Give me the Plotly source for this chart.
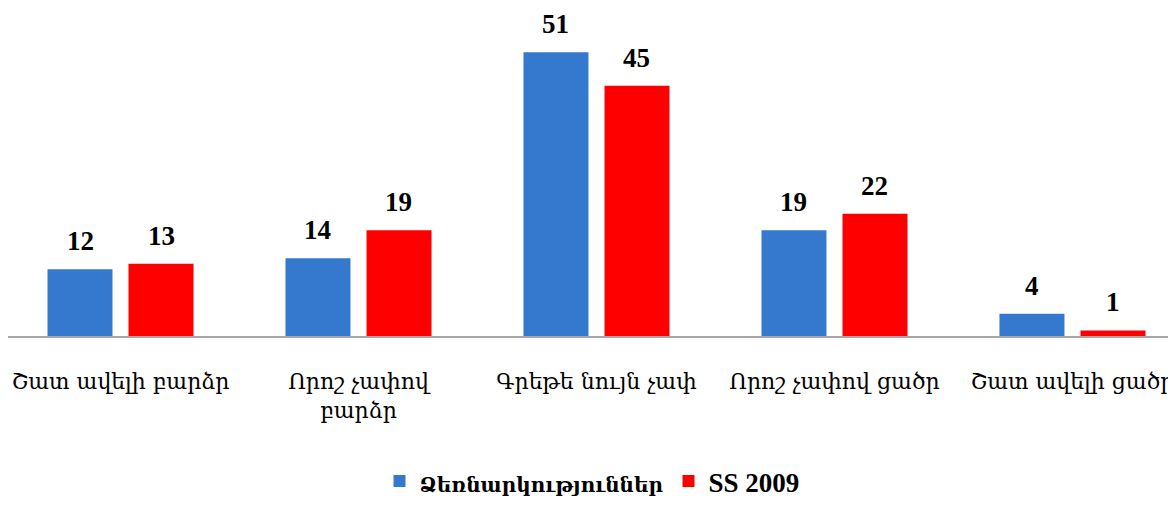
import plotly.graph_objects as go

categories = ["Շատ ավելի բարձր", "Որոշ չափով<br>բարձր", "Գրեթե նույն չափ", "Որոշ չափով ցածր", "Շատ ավելի ցածր"]
series_names = ["<span style='font-size:20px'><b>Ձեռնարկություններ</b></span>", "<b>SS 2009</b>"]
firms = [12, 14, 51, 19, 4]
ss2009 = [13, 19, 45, 22, 1]
colors = ["#3579CF", "#FF0000"]

x_idx = list(range(len(categories)))

fig = go.Figure()
for name, vals, col in zip(series_names, [firms, ss2009], colors):
    fig.add_trace(go.Bar(
        x=x_idx, y=vals, name=name,
        marker=dict(color=col, line=dict(width=0)),
    ))

# value labels
for vals, shift in [(firms, -40.5), (ss2009, 40.5)]:
    for i, v in enumerate(vals):
        fig.add_annotation(
            x=i, y=v, text="<b>%d</b>" % v, showarrow=False,
            xshift=shift, yshift=11, yanchor="bottom",
            font=dict(family="Liberation Serif", size=27, color="#000000"),
        )

fig.update_layout(
    width=1168, height=498,
    margin=dict(l=0, r=0, t=0, b=165),
    paper_bgcolor="white", plot_bgcolor="white",
    barmode="group", bargap=0.319, bargroupgap=0.198,
    showlegend=True,
    legend=dict(
        orientation="h", x=0.5, xanchor="center", y=-0.444, yanchor="middle",
        font=dict(family="Liberation Serif, DejaVu Serif", size=27, color="#000000"),
        itemwidth=30, traceorder="normal",
    ),
    xaxis=dict(
        tickmode="array", tickvals=x_idx, ticktext=categories,
        range=[-0.4727, 4.435],
        showline=True, linecolor="#A6A6A6", linewidth=1.5,
        showgrid=False, zeroline=False,
        ticks="outside", ticklen=25, tickcolor="rgba(0,0,0,0)",
        tickfont=dict(family="DejaVu Serif", size=22, color="#000000"),
    ),
    yaxis=dict(range=[0, 58.97], visible=False, showgrid=False, zeroline=False),
)

fig.write_html("out.html")
